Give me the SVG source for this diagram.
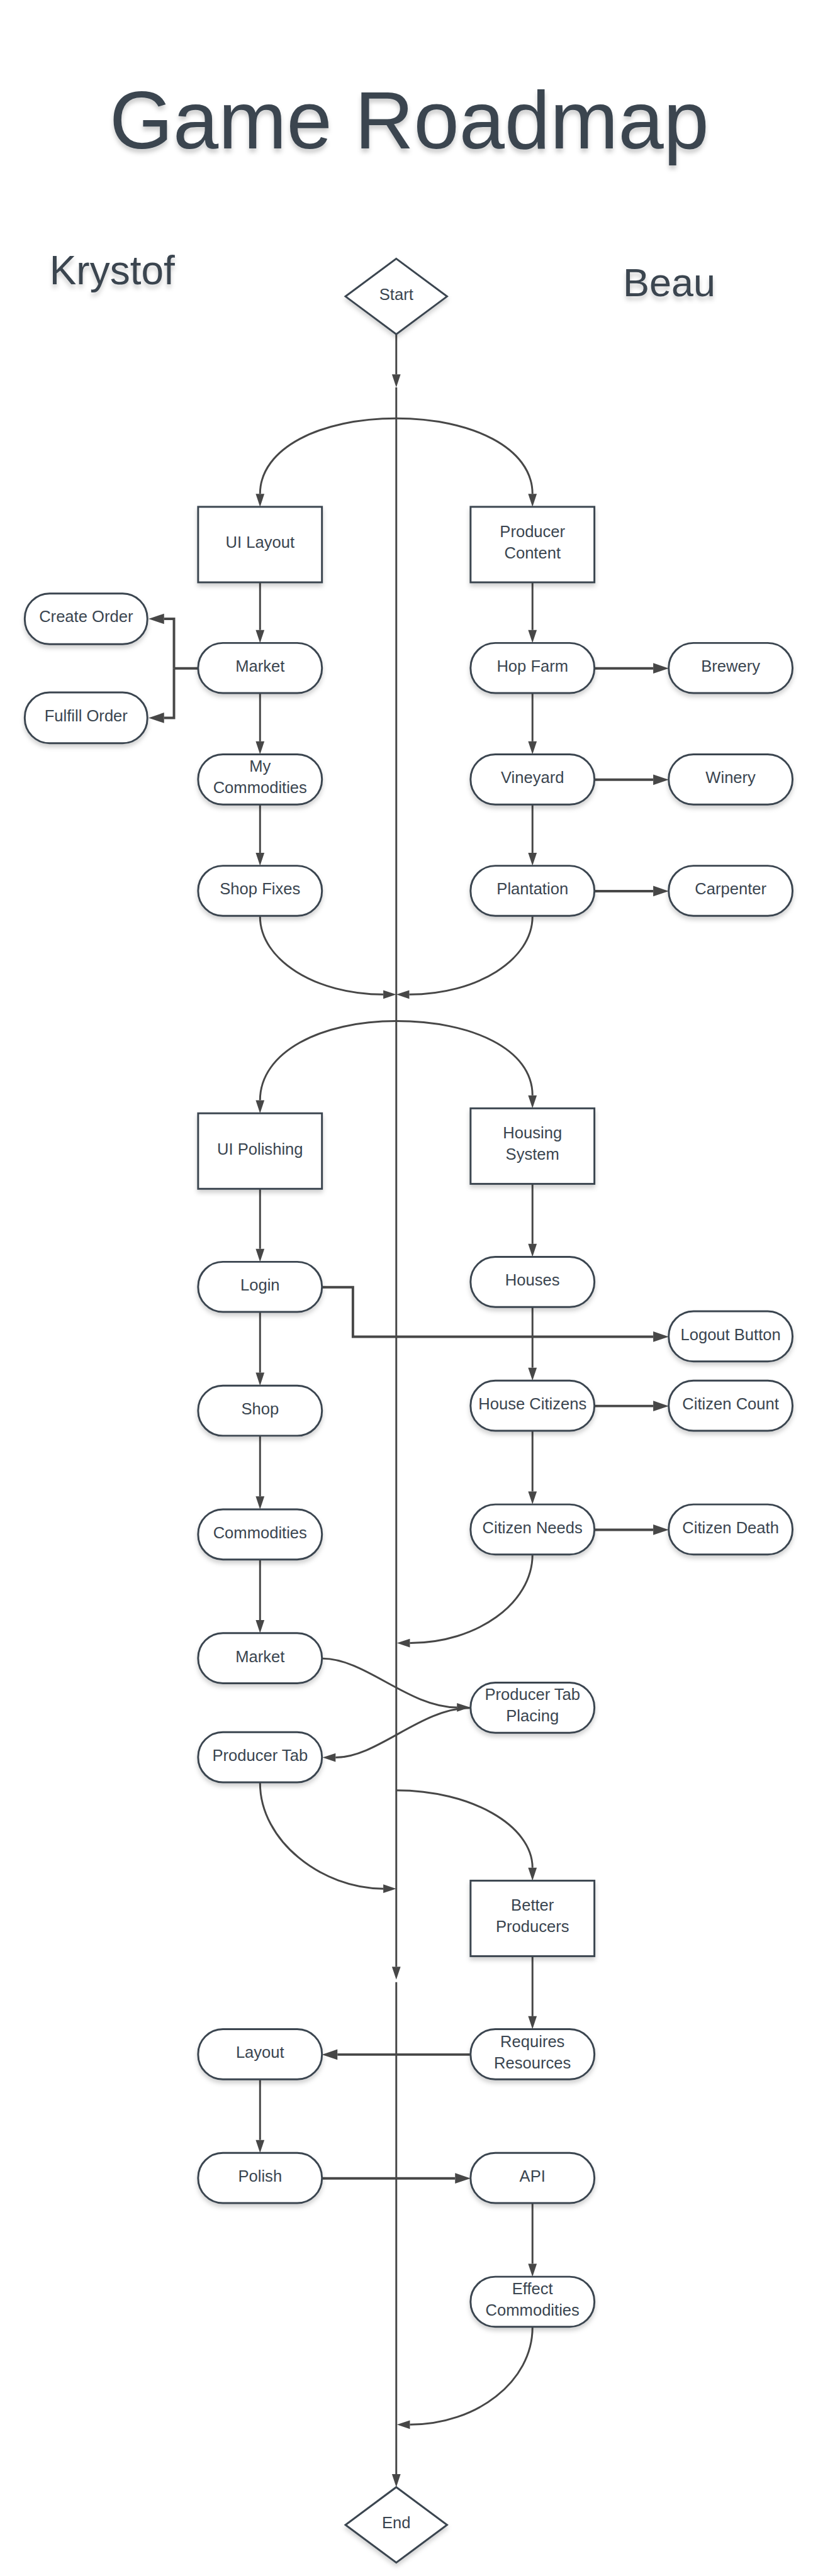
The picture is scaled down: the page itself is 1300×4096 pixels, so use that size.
<svg xmlns="http://www.w3.org/2000/svg" width="1300" height="4096" viewBox="0 0 1300 4096">
<style>
.node{fill:#ffffff;stroke:#3a4550;stroke-width:3;filter:url(#sh)}
.lbl{font-family:"Liberation Sans",Arial,sans-serif;font-size:26px;fill:#3a4550;text-anchor:middle}
.head{font-family:"Liberation Sans",Arial,sans-serif;fill:#3a4550;filter:url(#tsh)}
.c{fill:none;stroke:#474747;stroke-width:3;marker-end:url(#a)}
.p{fill:none;stroke:#474747;stroke-width:3}
.t{fill:none;stroke:#474747;stroke-width:4;marker-end:url(#b)}
.tp{fill:none;stroke:#474747;stroke-width:4}
</style>
<defs>
<filter id="sh" x="-20%" y="-20%" width="140%" height="170%"><feDropShadow dx="0" dy="5" stdDeviation="4" flood-color="#000000" flood-opacity="0.18"/></filter>
<filter id="tsh" x="-10%" y="-20%" width="120%" height="160%"><feDropShadow dx="0" dy="6" stdDeviation="4" flood-color="#000000" flood-opacity="0.2"/></filter>
<marker id="a" markerUnits="userSpaceOnUse" markerWidth="21" markerHeight="14" refX="0" refY="7" orient="auto" overflow="visible"><path d="M0,0 L21,7 L0,14 z" fill="#474747"/></marker>
<marker id="b" markerUnits="userSpaceOnUse" markerWidth="25" markerHeight="17" refX="0" refY="8.5" orient="auto" overflow="visible"><path d="M0,0 L25,8.5 L0,17 z" fill="#474747"/></marker>
</defs>
<rect x="0" y="0" width="1300" height="4096" fill="#ffffff"/>
<g transform="scale(0.984)">
<g id="headings">
<text class="head" x="661" y="240" font-size="132" text-anchor="middle">Game Roadmap</text>
<text class="head" x="80" y="459" font-size="65">Krystof</text>
<text class="head" x="1006" y="479" font-size="64">Beau</text>
</g>
<g id="connectors">
<path class="c" d="M640,540 V605"/>
<path class="c" d="M640,626 V3178"/>
<path class="c" d="M640,3203 V3998"/>
<path class="c" d="M640,676 C518,676 420,724 420,798"/>
<path class="c" d="M640,676 C762,676 860,724 860,798"/>
<path class="c" d="M420,1481 C420,1551 510,1607 619,1607"/>
<path class="c" d="M860,1481 C860,1551 770,1607 661,1607"/>
<path class="c" d="M640,1650 C518,1650 420,1700 420,1778"/>
<path class="c" d="M640,1650 C762,1650 860,1695 860,1770"/>
<path class="c" d="M860,2512 C860,2591 770,2655 662,2655"/>
<path class="c" d="M521,2680 C590,2680 660,2759 738,2759"/>
<path class="c" d="M759,2760 C680,2760 610,2840 542,2840"/>
<path class="c" d="M420,2881 C420,2975 520,3052 619,3052"/>
<path class="c" d="M640,2893 C761,2893 860,2950 860,3018"/>
<path class="c" d="M860,3761 C860,3848 770,3918 662,3918"/>
<path class="c" d="M420,941 V1018"/>
<path class="c" d="M420,1120 V1198"/>
<path class="c" d="M420,1300 V1378"/>
<path class="c" d="M860,941 V1018"/>
<path class="c" d="M860,1120 V1198"/>
<path class="c" d="M860,1300 V1378"/>
<path class="c" d="M420,1921 V2018"/>
<path class="c" d="M420,2121 V2218"/>
<path class="c" d="M420,2320 V2418"/>
<path class="c" d="M420,2520 V2618"/>
<path class="c" d="M860,1913 V2010"/>
<path class="c" d="M860,2112 V2210"/>
<path class="c" d="M860,2312 V2410"/>
<path class="c" d="M860,3161 V3258"/>
<path class="c" d="M420,3361 V3458"/>
<path class="c" d="M860,3561 V3658"/>
<path class="tp" d="M320,1080 H281"/>
<path class="t" d="M281,1080 V1000 H265"/>
<path class="t" d="M281,1080 V1160 H265"/>
<path class="t" d="M961,1080 H1055"/>
<path class="t" d="M961,1260 H1055"/>
<path class="t" d="M961,1440 H1055"/>
<path class="t" d="M521,2080 H570 V2160 H1055"/>
<path class="t" d="M961,2272 H1055"/>
<path class="t" d="M961,2472 H1055"/>
<path class="t" d="M759,3320 H545"/>
<path class="t" d="M521,3520 H735"/>
</g>
<g id="start"><polygon class="node" points="640,418 722,479 640,540 558,479"/><text class="lbl" x="640" y="484.5">Start</text></g>
<g id="end"><polygon class="node" points="640,4019 722,4080 640,4141 558,4080"/><text class="lbl" x="640" y="4085.5">End</text></g>
<g id="ui-layout"><rect class="node" x="320" y="819" width="200" height="122"/><text class="lbl" x="420" y="885.5">UI Layout</text></g>
<g id="producer-content"><rect class="node" x="760" y="819" width="200" height="122"/><text class="lbl" x="860" y="867.5">Producer</text><text class="lbl" x="860" y="902">Content</text></g>
<g id="create-order"><rect class="node" x="40" y="959" width="198" height="82" rx="40"/><text class="lbl" x="139" y="1005.5">Create Order</text></g>
<g id="fulfill-order"><rect class="node" x="40" y="1119" width="198" height="82" rx="40"/><text class="lbl" x="139" y="1165.5">Fulfill Order</text></g>
<g id="market"><rect class="node" x="320" y="1039" width="200" height="81" rx="40"/><text class="lbl" x="420" y="1085.5">Market</text></g>
<g id="my-commodities"><rect class="node" x="320" y="1219" width="200" height="81" rx="40"/><text class="lbl" x="420" y="1247">My</text><text class="lbl" x="420" y="1281.5">Commodities</text></g>
<g id="shop-fixes"><rect class="node" x="320" y="1399" width="200" height="81" rx="40"/><text class="lbl" x="420" y="1445.5">Shop Fixes</text></g>
<g id="hop-farm"><rect class="node" x="760" y="1039" width="200" height="81" rx="40"/><text class="lbl" x="860" y="1085.5">Hop Farm</text></g>
<g id="brewery"><rect class="node" x="1080" y="1039" width="200" height="81" rx="40"/><text class="lbl" x="1180" y="1085.5">Brewery</text></g>
<g id="vineyard"><rect class="node" x="760" y="1219" width="200" height="81" rx="40"/><text class="lbl" x="860" y="1265.5">Vineyard</text></g>
<g id="winery"><rect class="node" x="1080" y="1219" width="200" height="81" rx="40"/><text class="lbl" x="1180" y="1265.5">Winery</text></g>
<g id="plantation"><rect class="node" x="760" y="1399" width="200" height="81" rx="40"/><text class="lbl" x="860" y="1445.5">Plantation</text></g>
<g id="carpenter"><rect class="node" x="1080" y="1399" width="200" height="81" rx="40"/><text class="lbl" x="1180" y="1445.5">Carpenter</text></g>
<g id="ui-polishing"><rect class="node" x="320" y="1799" width="200" height="122"/><text class="lbl" x="420" y="1865.5">UI Polishing</text></g>
<g id="housing-system"><rect class="node" x="760" y="1791" width="200" height="122"/><text class="lbl" x="860" y="1839.5">Housing</text><text class="lbl" x="860" y="1874">System</text></g>
<g id="login"><rect class="node" x="320" y="2039" width="200" height="81" rx="40"/><text class="lbl" x="420" y="2085.5">Login</text></g>
<g id="houses"><rect class="node" x="760" y="2031" width="200" height="81" rx="40"/><text class="lbl" x="860" y="2077.5">Houses</text></g>
<g id="logout-button"><rect class="node" x="1080" y="2119" width="200" height="81" rx="40"/><text class="lbl" x="1180" y="2165.5">Logout Button</text></g>
<g id="shop"><rect class="node" x="320" y="2239" width="200" height="81" rx="40"/><text class="lbl" x="420" y="2285.5">Shop</text></g>
<g id="house-citizens"><rect class="node" x="760" y="2231" width="200" height="81" rx="40"/><text class="lbl" x="860" y="2277.5">House Citizens</text></g>
<g id="citizen-count"><rect class="node" x="1080" y="2231" width="200" height="81" rx="40"/><text class="lbl" x="1180" y="2277.5">Citizen Count</text></g>
<g id="commodities"><rect class="node" x="320" y="2439" width="200" height="81" rx="40"/><text class="lbl" x="420" y="2485.5">Commodities</text></g>
<g id="citizen-needs"><rect class="node" x="760" y="2431" width="200" height="81" rx="40"/><text class="lbl" x="860" y="2477.5">Citizen Needs</text></g>
<g id="citizen-death"><rect class="node" x="1080" y="2431" width="200" height="81" rx="40"/><text class="lbl" x="1180" y="2477.5">Citizen Death</text></g>
<g id="market-2"><rect class="node" x="320" y="2639" width="200" height="81" rx="40"/><text class="lbl" x="420" y="2685.5">Market</text></g>
<g id="producer-tab-placing"><rect class="node" x="760" y="2719" width="200" height="81" rx="40"/><text class="lbl" x="860" y="2747">Producer Tab</text><text class="lbl" x="860" y="2781.5">Placing</text></g>
<g id="producer-tab"><rect class="node" x="320" y="2799" width="200" height="81" rx="40"/><text class="lbl" x="420" y="2845.5">Producer Tab</text></g>
<g id="better-producers"><rect class="node" x="760" y="3039" width="200" height="122"/><text class="lbl" x="860" y="3087.5">Better</text><text class="lbl" x="860" y="3122">Producers</text></g>
<g id="requires-resources"><rect class="node" x="760" y="3279" width="200" height="81" rx="40"/><text class="lbl" x="860" y="3307.5">Requires</text><text class="lbl" x="860" y="3342">Resources</text></g>
<g id="layout"><rect class="node" x="320" y="3279" width="200" height="81" rx="40"/><text class="lbl" x="420" y="3325.5">Layout</text></g>
<g id="polish"><rect class="node" x="320" y="3479" width="200" height="81" rx="40"/><text class="lbl" x="420" y="3525.5">Polish</text></g>
<g id="api"><rect class="node" x="760" y="3479" width="200" height="81" rx="40"/><text class="lbl" x="860" y="3525.5">API</text></g>
<g id="effect-commodities"><rect class="node" x="760" y="3679" width="200" height="81" rx="40"/><text class="lbl" x="860" y="3707.5">Effect</text><text class="lbl" x="860" y="3742">Commodities</text></g>
</g>
</svg>
